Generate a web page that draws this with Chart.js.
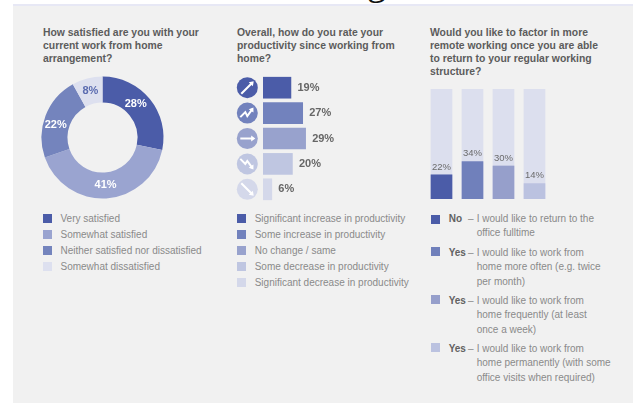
<!DOCTYPE html>
<html>
<head>
<meta charset="utf-8">
<title>Work from home survey</title>
<script src="https://cdn.jsdelivr.net/npm/chart.js@4"></script>
<style>
  html, body { margin: 0; padding: 0; background: #fff; overflow: hidden; }
  #page { position: relative; width: 635px; height: 403px; overflow: hidden; font-family: "Liberation Sans", Arial, sans-serif; }
  #band { position: absolute; left: 13px; top: 4px; width: 620px; height: 3px; background: #e7e8f5; }
  #panel { position: absolute; left: 13px; top: 6px; width: 620px; height: 397px; background: #f1f1f1; }
  #clipped { position: absolute; left: 367px; top: -37px; font: 38px/1 "Liberation Serif", serif; color: #111; }
  .title { position: absolute; font-size: 10.4px; font-weight: bold; line-height: 13px; color: #5c5c5c; white-space: nowrap; }
  .swatch { position: absolute; width: 9px; height: 9px; }
  .item { position: absolute; font-size: 10px; line-height: 14px; color: #8a8a8a; white-space: nowrap; }
  .item b { color: #626262; }
  canvas { position: absolute; }
</style>
</head>
<body>
<div id="page">
  <div id="band"></div>
  <div id="panel"></div>
  <div id="clipped">g</div>
  <div class="title" style="left:43px;top:26px">How satisfied are you with your<br>current work from home<br>arrangement?</div>
  <div class="title" style="left:237px;top:26px">Overall, how do you rate your<br>productivity since working from<br>home?</div>
  <div class="title" style="left:430px;top:26px">Would you like to factor in more<br>remote working once you are able<br>to return to your regular working<br>structure?</div>
  <canvas id="satisfaction" width="141" height="141" style="left:32px;top:67px;width:141px;height:141px"></canvas>
  <canvas id="productivity" width="180" height="127" style="left:236px;top:75px;width:180px;height:127px"></canvas>
  <canvas id="remote" width="124" height="110" style="left:426px;top:89px;width:124px;height:110px"></canvas>
</div>

<script>
  const satisfactionLabels = ['Very satisfied', 'Somewhat satisfied', 'Neither satisfied nor dissatisfied', 'Somewhat dissatisfied'];
  const satisfactionValues = [28, 41, 22, 8];
  const satisfactionColors = ['#4b5ca8', '#9aa4d0', '#7484bd', '#dde0ef'];

  const productivityLabels = ['Significant increase in productivity', 'Some increase in productivity', 'No change / same', 'Some decrease in productivity', 'Significant decrease in productivity'];
  const productivityValues = [19, 27, 29, 20, 6];
  const productivityColors = ['#4b5ca8', '#7282bd', '#98a2cd', '#bfc6e1', '#d4d8ea'];
  const productivityIcons = ['up', 'zigUp', 'flat', 'zigDown', 'down'];

  const remoteAnswers = ['No', 'Yes', 'Yes', 'Yes'];
  const remoteLines = [
    ['I would like to return to the', 'office fulltime'],
    ['I would like to work from', 'home more often (e.g. twice', 'per month)'],
    ['I would like to work from', 'home frequently (at least', 'once a week)'],
    ['I would like to work from', 'home permanently (with some', 'office visits when required)']
  ];
  const remoteValues = [22, 34, 30, 14];
  const remoteTrack = [100, 100, 100, 100];
  const remoteColors = ['#4b5ca8', '#7080bb', '#969fcb', '#bbc2e0'];

  const page = document.getElementById('page');

  function addSwatch(x, y, color) {
    const s = document.createElement('div');
    s.className = 'swatch';
    s.style.cssText = `left:${x}px;top:${y}px;background:${color}`;
    page.appendChild(s);
  }

  function addText(x, y, html) {
    const t = document.createElement('div');
    t.className = 'item';
    t.style.cssText = `left:${x}px;top:${y}px`;
    t.innerHTML = html;
    page.appendChild(t);
  }

  // Plain legends under the first two charts
  satisfactionLabels.forEach((label, i) => {
    addSwatch(43, 214 + i * 16, satisfactionColors[i]);
    addText(60.5, 212 + i * 16, label);
  });
  productivityLabels.forEach((label, i) => {
    addSwatch(237, 214 + i * 16, productivityColors[i]);
    addText(254.7, 212 + i * 16, label);
  });

  // Third legend has a bold answer, then wrapped lines
  let rowY = 212;
  remoteAnswers.forEach((answer, i) => {
    addSwatch(431, rowY + (i === 0 ? 2.5 : 0.5), remoteColors[i]);
    addText(448.7, rowY, `<b>${answer}</b>`);
    addText(468, rowY, '–');
    remoteLines[i].forEach((line, j) => addText(476.7, rowY + j * 14.3, line));
    rowY += remoteLines[i].length === 2 ? 34 : 48;
  });

  const hidden = { legend: { display: false }, tooltip: { enabled: false } };

  // Percent text on each donut slice, nudged off the ring's midline
  const sliceNudge = [[-4, -3], [0, 0], [-2, 5], [0, 0]];
  const sliceLabels = {
    id: 'sliceLabels',
    afterDatasetsDraw(chart) {
      const ctx = chart.ctx;
      ctx.save();
      ctx.font = 'bold 11px "Liberation Sans"';
      ctx.textAlign = 'center';
      ctx.textBaseline = 'middle';
      chart.getDatasetMeta(0).data.forEach((arc, i) => {
        const p = arc.tooltipPosition();
        ctx.fillStyle = i === 3 ? '#5a6bb0' : '#fff';
        ctx.fillText(satisfactionValues[i] + '%', p.x + sliceNudge[i][0], p.y + sliceNudge[i][1]);
      });
      ctx.restore();
    }
  };

  new Chart(document.getElementById('satisfaction'), {
    type: 'doughnut',
    data: {
      labels: satisfactionLabels,
      datasets: [{ data: satisfactionValues, backgroundColor: satisfactionColors, borderWidth: 0 }]
    },
    options: {
      responsive: false,
      animation: false,
      radius: 61,
      cutout: '57.4%',
      plugins: hidden
    },
    plugins: [sliceLabels]
  });

  function arrow(ctx, pts, headSize) {
    ctx.beginPath();
    pts.forEach((p, i) => (i ? ctx.lineTo(p[0], p[1]) : ctx.moveTo(p[0], p[1])));
    ctx.stroke();
    const a = pts[pts.length - 1];
    const b = pts[pts.length - 2];
    const ang = Math.atan2(a[1] - b[1], a[0] - b[0]);
    ctx.beginPath();
    ctx.moveTo(a[0] + Math.cos(ang) * 2, a[1] + Math.sin(ang) * 2);
    ctx.lineTo(a[0] + Math.cos(ang + 2.2) * headSize, a[1] + Math.sin(ang + 2.2) * headSize);
    ctx.lineTo(a[0] + Math.cos(ang - 2.2) * headSize, a[1] + Math.sin(ang - 2.2) * headSize);
    ctx.closePath();
    ctx.fill();
  }

  // Arrow shapes relative to the icon centre
  const iconPaths = {
    up: [[-6, 6], [5, -5]],
    zigUp: [[-7, 4], [-2, -1], [0, 3], [5, -4]],
    flat: [[-7, 0], [6, 0]],
    zigDown: [[-7, -5], [-2, 0], [0, -3], [5, 4]],
    down: [[-6, -6], [5, 5]]
  };

  // Round icons left of the bars and percent text right of them
  const rowDecor = {
    id: 'rowDecor',
    afterDatasetsDraw(chart) {
      const ctx = chart.ctx;
      const left = chart.scales.x.left;
      ctx.save();
      chart.getDatasetMeta(0).data.forEach((bar, i) => {
        ctx.save();
        ctx.translate(left - 15.7, bar.y);
        ctx.fillStyle = productivityColors[i];
        ctx.beginPath();
        ctx.arc(0, 0, 10.5, 0, Math.PI * 2);
        ctx.fill();
        ctx.strokeStyle = '#fff';
        ctx.fillStyle = '#fff';
        ctx.lineWidth = 2;
        arrow(ctx, iconPaths[productivityIcons[i]], 3.6);
        ctx.restore();

        ctx.fillStyle = '#666';
        ctx.font = 'bold 11px "Liberation Sans"';
        ctx.textBaseline = 'middle';
        ctx.textAlign = 'left';
        ctx.fillText(productivityValues[i] + '%', bar.x + 6.5, bar.y);
      });
      ctx.restore();
    }
  };

  new Chart(document.getElementById('productivity'), {
    type: 'bar',
    data: {
      labels: productivityLabels,
      datasets: [{ data: productivityValues, backgroundColor: productivityColors, barThickness: 21 }]
    },
    options: {
      responsive: false,
      animation: false,
      indexAxis: 'y',
      layout: { padding: { left: 27, right: 6 } },
      scales: {
        x: { display: false, min: 0, max: 100 },
        y: { display: false }
      },
      plugins: hidden
    },
    plugins: [rowDecor]
  });

  // Percent text sitting above each filled bar
  const topLabels = {
    id: 'topLabels',
    afterDatasetsDraw(chart) {
      const ctx = chart.ctx;
      ctx.save();
      ctx.fillStyle = '#6b6b6b';
      ctx.font = '9.5px "Liberation Sans"';
      ctx.textAlign = 'center';
      ctx.textBaseline = 'bottom';
      chart.getDatasetMeta(0).data.forEach((bar, i) => {
        ctx.fillText(remoteValues[i] + '%', bar.x, bar.y - 3);
      });
      ctx.restore();
    }
  };

  new Chart(document.getElementById('remote'), {
    type: 'bar',
    data: {
      labels: remoteAnswers,
      datasets: [
        { data: remoteValues, backgroundColor: remoteColors, barThickness: 21, order: 1 },
        { data: remoteTrack, backgroundColor: '#dcdfee', barThickness: 21, order: 2 }
      ]
    },
    options: {
      responsive: false,
      animation: false,
      scales: {
        x: { display: false, stacked: true },
        y: { display: false, min: 0, max: 100 }
      },
      plugins: hidden
    },
    plugins: [topLabels]
  });
</script>
</body>
</html>
